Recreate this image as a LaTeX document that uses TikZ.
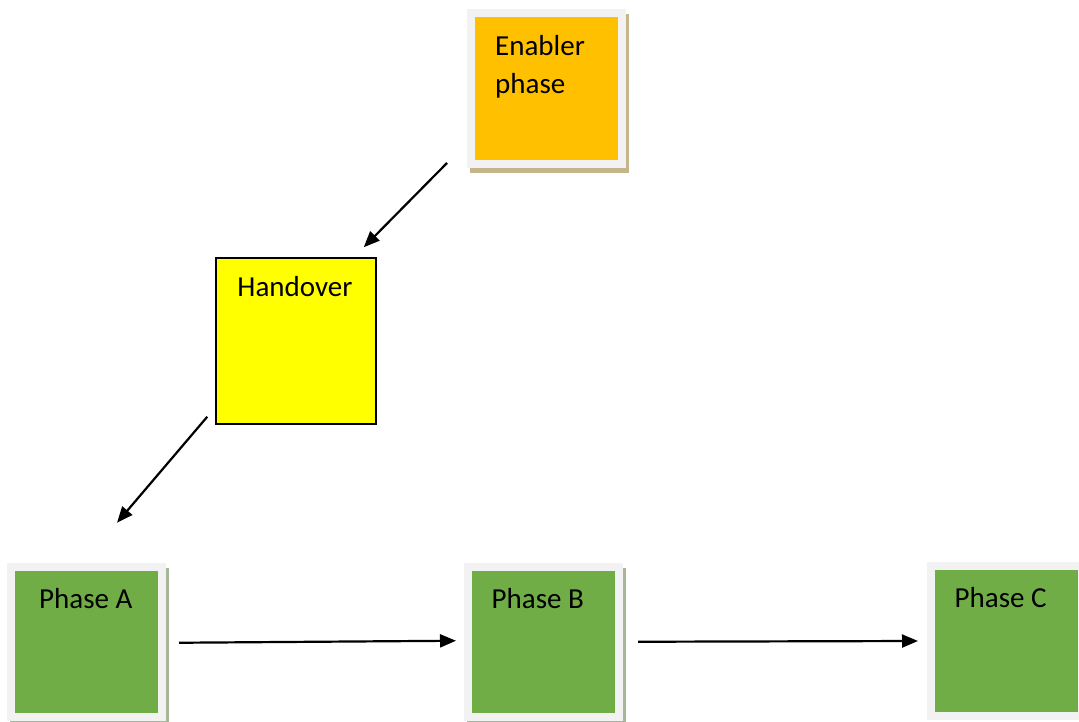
\documentclass[tikz,border=0pt]{standalone}
\usepackage{fontspec}
\setmainfont{Carlito}
\usetikzlibrary{arrows.meta,calc,shadows}
\definecolor{framegray}{HTML}{F2F2F2}
\definecolor{enablerorange}{HTML}{FFC000}
\definecolor{handoveryellow}{HTML}{FFFF00}
\definecolor{phasegreen}{HTML}{70AD47}
\definecolor{tanshadow}{HTML}{C4B58B}
\definecolor{greenshadow}{HTML}{A6B697}
\begin{document}
\begin{tikzpicture}[x=1pt, y=1pt,
    phasebox/.style={draw=framegray, line width=8pt, outer sep=4pt, inner sep=0pt, minimum width=151pt, minimum height=150pt},
    boxtext/.style={anchor=north west, inner sep=0pt, align=left, font=\fontsize{29}{38}\selectfont},
    flow/.style={-{Triangle[length=16pt,width=13pt]}, line width=2.2pt}]

        \useasboundingbox (0,0) rectangle (1079,721);
        \clip (0,0) rectangle (1079,721);

        \node (enabler) [phasebox, minimum height=151pt, fill=enablerorange, drop shadow={shadow xshift=3pt, shadow yshift=-5pt, shadow scale=1.053, fill=tanshadow, opacity=1}, label={[boxtext, xshift=28pt, yshift=-26pt]north west:{Enabler\\phase}}] at (546.5,632.5) {};

        \node (handover) [draw, line width=1.5pt, fill=handoveryellow, inner sep=0pt, minimum width=160pt, minimum height=166pt, label={[boxtext, xshift=22pt, yshift=-19pt]north west:Handover}] at (296,380) {};

        \node (phaseA) [phasebox, fill=phasegreen, drop shadow={shadow xshift=3pt, shadow yshift=-5pt, shadow scale=1.053, fill=greenshadow, opacity=1}, label={[boxtext, xshift=32pt, yshift=-25pt]north west:Phase A}] at (86.5,79.25) {};
        \node (phaseB) [phasebox, minimum width=151.5pt, fill=phasegreen, drop shadow={shadow xshift=3pt, shadow yshift=-5pt, shadow scale=1.053, fill=greenshadow, opacity=1}, label={[boxtext, xshift=28pt, yshift=-25pt]north west:Phase B}] at (543.25,79.25) {};
        \node (phaseC) [phasebox, fill=phasegreen, label={[boxtext, xshift=28pt, yshift=-25pt]north west:Phase C}] at (1006,80) {};

        \draw [flow] ($(enabler.south west)+(-20,5)$) -- ($(handover.north east)+(-13,10)$);
        \draw [flow] ($(handover.south west)+(-8,8)$) -- ($(phaseA.north)+(30.5,40)$);
        \draw [flow] ($(phaseA.east)+(13,-1)$) -- ($(phaseB.west)+(-7.5,1)$);
        \draw [flow] ($(phaseB.east)+(15,0)$) -- ($(phaseC.west)+(-8.5,0)$);
    \end{tikzpicture}
\end{document}
